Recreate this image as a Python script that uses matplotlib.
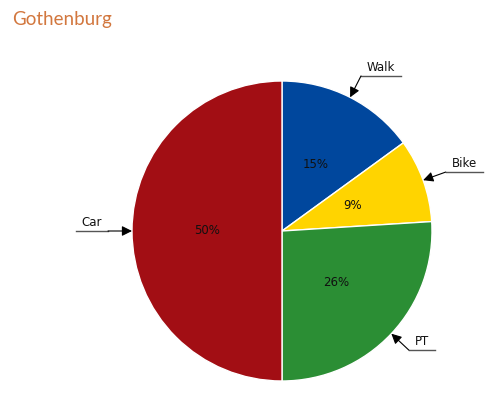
import numpy as np
import matplotlib
matplotlib.use("Agg")
import matplotlib.pyplot as plt

labels = ["Walk", "Bike", "PT", "Car"]
values = [15, 9, 26, 50]
colors = ["#00479D", "#FFD400", "#2B8E34", "#A20E14"]
title = "Gothenburg"

W, H = 500, 398
fig = plt.figure(figsize=(W / 100, H / 100), dpi=100)
ax = fig.add_axes([0, 0, 1, 1])
ax.set_xlim(0, W)
ax.set_ylim(0, H)
ax.set_aspect("equal")
ax.axis("off")

cx, cy, r = 282, H - 231, 150
wedges, texts = ax.pie(values, colors=colors, startangle=90, counterclock=False,
                       center=(cx, cy), radius=r, frame=True,
                       wedgeprops=dict(edgecolor="white", linewidth=1.0))
ax.set_xlim(0, W)
ax.set_ylim(0, H)
ax.axis("off")

renderer = fig.canvas.get_renderer()
total = sum(values)
for w, lab, v in zip(wedges, labels, values):
    ang = np.deg2rad((w.theta1 + w.theta2) / 2)
    ca, sa = np.cos(ang), np.sin(ang)
    # percentage
    ax.text(cx + 0.5 * r * ca, cy + 0.5 * r * sa, f"{round(100 * v / total)}%",
            ha="center", va="center", fontsize=8.5, color="#111111",
            family="DejaVu Sans")
    # callout
    tip = (cx + r * ca, cy + r * sa)
    elbow = (cx + 1.16 * r * ca, cy + 1.16 * r * sa)
    side = 1 if ca >= 0 else -1
    t = ax.text(0, elbow[1] + 2, lab, ha="center", va="bottom",
                fontsize=8.5, color="#111111", family="DejaVu Sans")
    tw = t.get_window_extent(renderer).width
    length = tw + 12
    end = elbow[0] + side * length
    t.set_x((elbow[0] + end) / 2)
    ax.plot([elbow[0], end], [elbow[1], elbow[1]], color="#555555", lw=1.0)
    ax.annotate("", xy=tip, xytext=elbow,
                arrowprops=dict(arrowstyle="-|>", color="black", lw=0.8,
                                mutation_scale=15, shrinkA=0, shrinkB=0))

fig.text(12 / W, 1 - 20 / H, title, ha="left", va="center", fontsize=13.5,
         color="#D2773E", family="Lato")

fig.savefig("out.png", dpi=100)
